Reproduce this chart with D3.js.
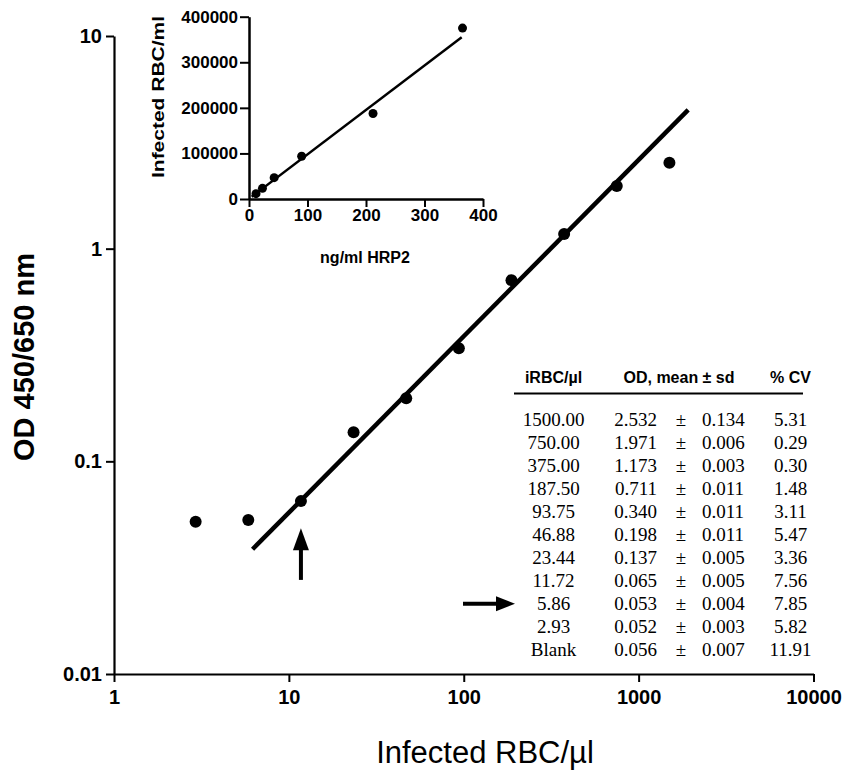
<!DOCTYPE html>
<html>
<head>
<meta charset="utf-8">
<script src="https://cdn.jsdelivr.net/npm/d3@7"></script>
<style>
  body { margin: 0; background: #fff; }
  svg text { fill: #000; }
</style>
</head>
<body>
<svg id="chart" width="846" height="778"></svg>
<script>
// main calibration curve: infected RBC/ul vs OD
const iRBC = [2.93, 5.86, 11.72, 23.44, 46.88, 93.75, 187.5, 375, 750, 1500];
const odMean = [0.052, 0.053, 0.065, 0.137, 0.198, 0.340, 0.711, 1.173, 1.971, 2.532];
// fitted regression line end points
const fitX = [6.2, 1920];
const fitY = [0.0386, 4.49];
const xTicks = [1, 10, 100, 1000, 10000];
const yTicks = [0.01, 0.1, 1, 10];

// inset: HRP2 vs infected RBC/ml
const hrp2 = [12, 23, 43, 90, 212, 365];
const iRBCml = [11720, 23440, 46880, 93750, 187500, 375000];
const insetFitX = [4.6, 363.6];
const insetFitY = [5000, 354800];
const insetXTicks = [0, 100, 200, 300, 400];
const insetYTicks = [0, 100000, 200000, 300000, 400000];

// table
const tableHead = ["iRBC/\u00b5l", "OD, mean \u00b1 sd", "% CV"];
const tableRBC = ["1500.00", "750.00", "375.00", "187.50", "93.75", "46.88", "23.44", "11.72", "5.86", "2.93", "Blank"];
const tableMean = ["2.532", "1.971", "1.173", "0.711", "0.340", "0.198", "0.137", "0.065", "0.053", "0.052", "0.056"];
const tableSd = ["0.134", "0.006", "0.003", "0.011", "0.011", "0.011", "0.005", "0.005", "0.004", "0.003", "0.007"];
const tableCV = ["5.31", "0.29", "0.30", "1.48", "3.11", "5.47", "3.36", "7.56", "7.85", "5.82", "11.91"];

const svg = d3.select("#chart");
const sans = "'Liberation Sans', Arial, sans-serif";
const serif = "'Liberation Serif', 'Times New Roman', serif";

// ---------- main plot ----------
const x = d3.scaleLog().domain([1, 10000]).range([114, 813.5]);
const y = d3.scaleLog().domain([0.01, 10]).range([674, 36]);

const xAxis = svg.append("g")
    .attr("transform", `translate(0,${y(0.01)})`)
    .call(d3.axisBottom(x).tickValues(xTicks).tickFormat(d3.format("d"))
        .tickSize(8).tickSizeOuter(0).tickPadding(8));
const yAxis = svg.append("g")
    .attr("transform", `translate(${x(1)},0)`)
    .call(d3.axisLeft(y).tickValues(yTicks).tickFormat(d => String(d))
        .tickSize(8).tickSizeOuter(0).tickPadding(4));

[xAxis, yAxis].forEach(g => {
    g.select(".domain").attr("stroke-width", 2.2);
    g.selectAll(".tick line").attr("stroke-width", 2);
    g.selectAll("text").attr("font-family", sans).attr("font-weight", "bold")
        .attr("font-size", 20).attr("fill", "#000");
});

svg.append("line")
    .attr("x1", x(fitX[0])).attr("y1", y(fitY[0]))
    .attr("x2", x(fitX[1])).attr("y2", y(fitY[1]))
    .attr("stroke", "#000").attr("stroke-width", 4.5);

svg.append("g").selectAll("circle")
    .data(iRBC)
    .join("circle")
    .attr("cx", d => x(d))
    .attr("cy", (d, i) => y(odMean[i]))
    .attr("r", 6)
    .attr("fill", "#000");

svg.append("text")
    .attr("transform", `translate(34,357) rotate(-90)`)
    .attr("text-anchor", "middle")
    .attr("font-family", sans).attr("font-weight", "bold").attr("font-size", 29)
    .text("OD 450/650 nm");

svg.append("text")
    .attr("x", 485).attr("y", 763)
    .attr("text-anchor", "middle")
    .attr("font-family", sans).attr("font-size", 31)
    .text("Infected RBC/\u00b5l");

// up arrow marking the detection limit
const ax = x(11.72);
const arrowTip = y(0.0485), arrowBase = y(0.0277);
svg.append("line")
    .attr("x1", ax).attr("x2", ax)
    .attr("y1", arrowBase).attr("y2", arrowTip + 18)
    .attr("stroke", "#000").attr("stroke-width", 4);
svg.append("path")
    .attr("d", `M${ax},${arrowTip} L${ax - 8},${arrowTip + 22} L${ax + 8},${arrowTip + 22} Z`)
    .attr("fill", "#000");

// ---------- inset ----------
const ix = d3.scaleLinear().domain([0, 400]).range([249, 483]);
const iy = d3.scaleLinear().domain([0, 400000]).range([199, 16.7]);

const ixAxis = svg.append("g")
    .attr("transform", `translate(0,${iy(0)})`)
    .call(d3.axisBottom(ix).tickValues(insetXTicks).tickSize(8).tickSizeOuter(0).tickPadding(2));
const iyAxis = svg.append("g")
    .attr("transform", `translate(${ix(0)},0)`)
    .call(d3.axisLeft(iy).tickValues(insetYTicks).tickFormat(d3.format("d"))
        .tickSize(9).tickSizeOuter(0).tickPadding(2));

[ixAxis, iyAxis].forEach(g => {
    g.select(".domain").attr("stroke-width", 2.5);
    g.selectAll(".tick line").attr("stroke-width", 2);
    g.selectAll("text").attr("font-family", sans).attr("font-weight", "bold")
        .attr("font-size", 17).attr("fill", "#000");
});

svg.append("line")
    .attr("x1", ix(insetFitX[0])).attr("y1", iy(insetFitY[0]))
    .attr("x2", ix(insetFitX[1])).attr("y2", iy(insetFitY[1]))
    .attr("stroke", "#000").attr("stroke-width", 2.5);

svg.append("g").selectAll("circle")
    .data(hrp2)
    .join("circle")
    .attr("cx", d => ix(d))
    .attr("cy", (d, i) => iy(iRBCml[i]))
    .attr("r", 4.5)
    .attr("fill", "#000");

svg.append("text")
    .attr("x", 365).attr("y", 263)
    .attr("text-anchor", "middle")
    .attr("font-family", sans).attr("font-weight", "bold").attr("font-size", 16)
    .text("ng/ml HRP2");

svg.append("text")
    .attr("transform", `translate(164,97) rotate(-90)`)
    .attr("text-anchor", "middle")
    .attr("font-family", sans).attr("font-weight", "bold").attr("font-size", 16)
    .attr("textLength", 162).attr("lengthAdjust", "spacingAndGlyphs")
    .text("Infected RBC/ml");

// ---------- table ----------
const colX = [553.5, 679, 790.5];
const table = svg.append("g");
table.selectAll("text.head")
    .data(tableHead)
    .join("text")
    .attr("class", "head")
    .attr("x", (d, i) => colX[i])
    .attr("y", 383)
    .attr("text-anchor", "middle")
    .attr("font-family", sans).attr("font-weight", "bold").attr("font-size", 16)
    .text(d => d);

table.append("line")
    .attr("x1", 514).attr("x2", 803).attr("y1", 393.5).attr("y2", 393.5)
    .attr("stroke", "#000").attr("stroke-width", 2);

const rowY = i => 426 + i * 22.97;
const bodyFont = sel => sel.attr("font-family", serif).attr("font-size", 19).attr("fill", "#111");

table.selectAll("text.rbc").data(tableRBC).join("text").attr("class", "rbc")
    .attr("x", colX[0]).attr("y", (d, i) => rowY(i)).attr("text-anchor", "middle")
    .call(bodyFont).text(d => d);
table.selectAll("text.mean").data(tableMean).join("text").attr("class", "mean")
    .attr("x", 657).attr("y", (d, i) => rowY(i)).attr("text-anchor", "end")
    .call(bodyFont).text(d => d);
table.selectAll("text.pm").data(tableMean).join("text").attr("class", "pm")
    .attr("x", 681).attr("y", (d, i) => rowY(i)).attr("text-anchor", "middle")
    .call(bodyFont).text("\u00b1");
table.selectAll("text.sd").data(tableSd).join("text").attr("class", "sd")
    .attr("x", 702).attr("y", (d, i) => rowY(i)).attr("text-anchor", "start")
    .call(bodyFont).text(d => d);
table.selectAll("text.cv").data(tableCV).join("text").attr("class", "cv")
    .attr("x", colX[2]).attr("y", (d, i) => rowY(i)).attr("text-anchor", "middle")
    .call(bodyFont).text(d => d);

// arrow pointing at the 5.86 row
const ry = rowY(tableRBC.indexOf("5.86")) - 6;
table.append("line")
    .attr("x1", 463).attr("x2", 500).attr("y1", ry).attr("y2", ry)
    .attr("stroke", "#000").attr("stroke-width", 4);
table.append("path")
    .attr("d", `M515,${ry} L496,${ry - 7.5} L496,${ry + 7.5} Z`)
    .attr("fill", "#000");
</script>
</body>
</html>
